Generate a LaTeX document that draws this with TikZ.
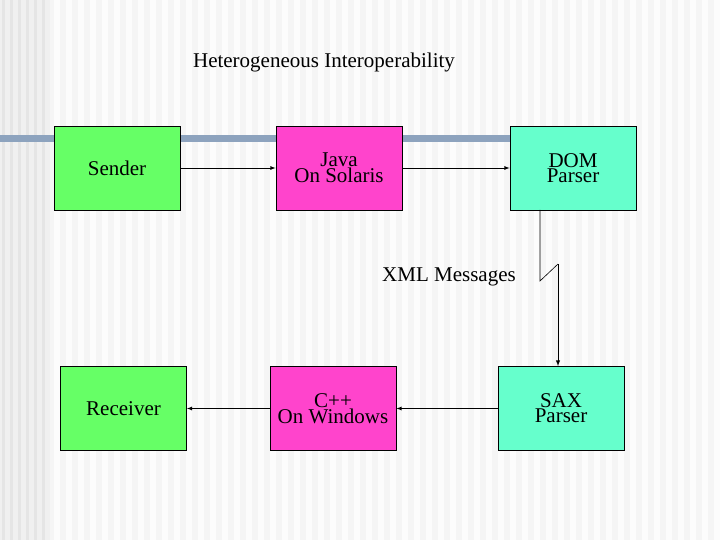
\documentclass[tikz,border=0pt]{standalone}
\usepackage{fontspec}
\setmainfont{Liberation Serif}
\newcommand\myfs{\fontsize{21}{25}\selectfont}
\begin{document}
\begin{tikzpicture}[x=1pt,y=-1pt,
  box/.style={draw=black,line width=0.8pt,minimum width=126pt,minimum height=84pt,align=center,inner sep=0pt},
  arr/.style={-latex,line width=0.8pt}]
\useasboundingbox (0,0) rectangle (720,540);
\fill[gray!8] (0,0) rectangle (720,540);
\foreach \x in {0,12,...,708} \fill[white!60!gray!5] (\x+6,0) rectangle (\x+12,540);
\fill[gray!12] (0,0) rectangle (50,540);
\foreach \x in {2,10,...,46} \fill[gray!20] (\x,0) rectangle (\x+3,540);
\fill[fill={rgb,255:red,141;green,163;blue,190}] (0,135) rectangle (535,142);
\node (title) at (324,62) {\myfs Heterogeneous Interoperability};
\node[box,fill={rgb,255:red,102;green,255;blue,102}] (s) at (117,168) {\myfs Sender};
\node[box,fill={rgb,255:red,255;green,68;blue,204}] (j) at (339,168) {\myfs Java\\\myfs On Solaris};
\node[box,fill={rgb,255:red,102;green,255;blue,204}] (d) at (573,168) {\myfs DOM\\\myfs Parser};
\node[box,fill={rgb,255:red,102;green,255;blue,102}] (r) at (123.5,408.5) {\myfs Receiver};
\node[box,fill={rgb,255:red,255;green,68;blue,204}] (c) at (333,408.5) {\myfs C++\\\myfs On Windows};
\node[box,fill={rgb,255:red,102;green,255;blue,204}] (x) at (561,408.5) {\myfs SAX\\\myfs Parser};
\node (xml) at (449,277) {\myfs XML Messages};
\draw[arr] (s) -- (j);
\draw[arr] (j) -- (d);
\draw[arr] (x) -- (c);
\draw[arr] (c) -- (r);
\draw[line width=0.6pt] (540,210) -- (540,281) -- (558,264);
\draw[arr,line width=1pt] (558,264) -- (x.north -| 558,0);
\end{tikzpicture}
\end{document}
